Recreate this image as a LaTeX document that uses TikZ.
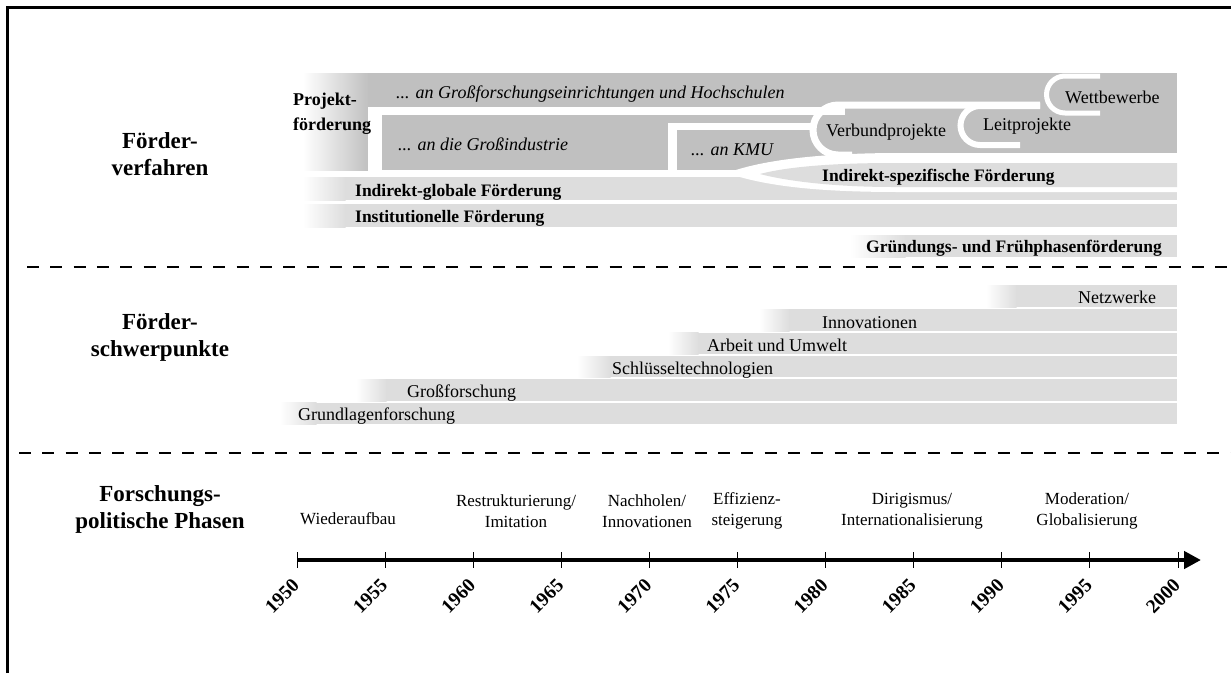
\documentclass[tikz,border=0pt]{standalone}
\usepackage{fontspec}
\setmainfont{Liberation Serif}
\usetikzlibrary{arrows.meta}
\definecolor{dk}{RGB}{192,192,192}
\definecolor{lt}{RGB}{221,221,221}
\newcommand\gband[5]{%
  \fill[left color=white,right color=#5] (#1,#3) rectangle (#2+0.6,#4);
  \fill[#5] (#2,#3) rectangle (1177,#4);}
\begin{document}
\begin{tikzpicture}[x=1pt,y=-1pt,
  txt/.style={font=\fontsize{18}{21}\selectfont, inner sep=0, anchor=base west},
  txtbf/.style={txt, font=\fontsize{17.5}{21}\selectfont\bfseries},
  txtit/.style={txt, font=\fontsize{18}{21}\selectfont\itshape},
  cat/.style={font=\fontsize{23}{27}\selectfont\bfseries, align=center, inner sep=0},
  phase/.style={font=\fontsize{17}{21.5}\selectfont, align=center, inner sep=0},
  year/.style={font=\fontsize{19.5}{20}\selectfont\bfseries, rotate=45, anchor=east, inner sep=0},
  sepline/.style={line width=2.5pt, dash pattern=on 12pt off 11.3pt},
  bubble/.style={white, line width=#1},
]
\useasboundingbox (0,0) rectangle (1231,673);
% frame
\draw[line width=3pt] (7.5,673) -- (7.5,7.5) -- (1231,7.5);

% ---------- Foerderverfahren ----------
\fill[left color=white,right color=dk] (303,73) rectangle (368.6,170);
\fill[dk] (368,73) rectangle (1177,170);
% white separators in project funding area
\fill[white] (368,107) rectangle (845,115);
\fill[white] (368,107) rectangle (382,171);
\fill[white] (668,123) rectangle (816,130);
\fill[white] (668,123) rectangle (677,171);
% bubbles
\draw[bubble=7] (1040,105) -- (838,105) arc[start angle=270,end angle=90,radius=25] -- (852,155);
\draw[bubble=6] (1040,106) -- (980,106) arc[start angle=270,end angle=90,radius=19.5] -- (1020,145);
\draw[bubble=5] (1100,76) -- (1065,76) arc[start angle=270,end angle=90,radius=18.5] -- (1100,113);

% indirect global band
\gband{303}{345}{177}{200}{lt}
% indirect specific
\fill[white] (727,173) .. controls (770,157) and (840,153) .. (900,153) -- (1177,153) -- (1177,192) -- (900,192) .. controls (830,192) and (770,188) .. cycle;
\fill[lt] (760,174) .. controls (790,166) and (840,163) .. (893,163) -- (1177,163) -- (1177,187) -- (893,187) .. controls (840,187) and (790,182) .. cycle;
% institutional
\gband{303}{345}{204}{227}{lt}
% founding
\gband{850}{905}{235}{257}{lt}

\node[font=\fontsize{18}{25}\selectfont\bfseries, align=left, inner sep=0, anchor=north west] (pf) at (293,93) {Projekt-\\förderung};
\node[txtit] (gfe) at (396,98) {... an Großforschungseinrichtungen und Hochschulen};
\node[txtit] (gi) at (398,150) {... an die Großindustrie};
\node[txtit] (kmu) at (691,155) {... an KMU};
\node[txt] (vp) at (826,136) {Verbundprojekte};
\node[txt] (lp) at (983,130) {Leitprojekte};
\node[txt] (wb) at (1065,103) {Wettbewerbe};
\node[txtbf] (isf) at (822,181) {Indirekt-spezifische Förderung};
\node[txtbf] (igf) at (355,196) {Indirekt-globale Förderung};
\node[txtbf] (inf) at (355,222) {Institutionelle Förderung};
\node[txtbf] (gff) at (866,252) {Gründungs- und Frühphasenförderung};

\node[cat] (c1) at (160,154) {Förder-\\verfahren};

\draw[sepline] (27,267) -- (1231,267);

% ---------- Foerderschwerpunkte ----------
\gband{986}{1016}{285}{307.3}{lt}
\gband{759}{789}{309}{331}{lt}
\gband{668}{698}{332.7}{354.3}{lt}
\gband{577}{610}{356}{377.3}{lt}
\gband{356}{386}{379}{401}{lt}
\gband{280}{316}{402.7}{424}{lt}
\node[txt] (nw) at (1078,303) {Netzwerke};
\node[txt] (inn) at (822,328) {Innovationen};
\node[txt] (au) at (707,351) {Arbeit und Umwelt};
\node[txt] (st) at (612,374) {Schlüsseltechnologien};
\node[txt] (gf) at (407,397) {Großforschung};
\node[txt] (gl) at (298,420) {Grundlagenforschung};

\node[cat] (c2) at (160,337) {Förder-\\schwerpunkte};

\draw[sepline] (19,453) -- (1231,453);

% ---------- Phasen ----------
\node[cat] (c3) at (160,509) {Forschungs-\\politische Phasen};
\node[phase, anchor=base] (p1) at (348,524) {Wiederaufbau};
\node[phase] (p2) at (516,511) {Restrukturierung/\\Imitation};
\node[phase] (p3) at (647,511) {Nachholen/\\Innovationen};
\node[phase] (p4) at (747,511) {Effizienz-\\steigerung};
\node[phase] (p5) at (912,511) {Dirigismus/\\Internationalisierung};
\node[phase] (p6) at (1087,511) {Moderation/\\Globalisierung};

\coordinate (a0) at (297,560);
\coordinate (a1) at (1201,560);
\draw[line width=4.8pt, -{Triangle[length=17pt,width=17pt]}] (a0) -- (a1);
\foreach \i in {0,...,10}{
  \pgfmathtruncatemacro\yr{1950+5*\i}
  \draw[line width=1pt] (297+88.1*\i,552) -- ++(0,16);
  \node[year] (y\yr) at (297+88.1*\i-1,582) {\yr};
}
\end{tikzpicture}
\end{document}
